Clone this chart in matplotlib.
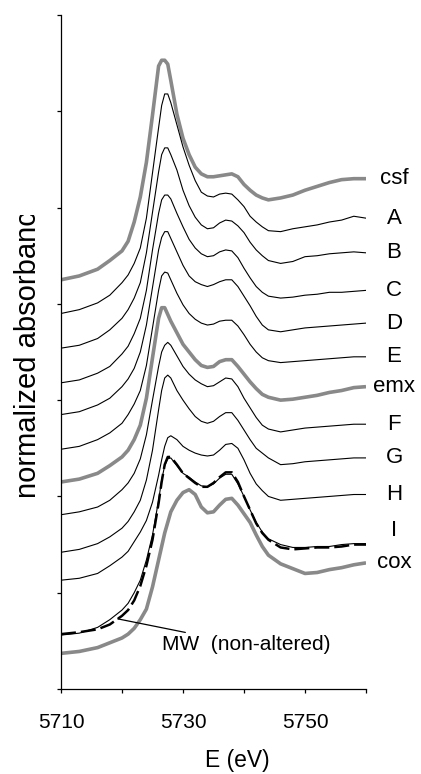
import matplotlib
matplotlib.use('Agg')
import matplotlib.pyplot as plt
import numpy as np
from matplotlib.transforms import Bbox, TransformedBbox

plt.rcParams['font.family'] = ['Liberation Sans', 'DejaVu Sans']

# energy grid (eV) and stacked, normalized XANES spectra (offset units)
energy = [5710, 5713, 5716, 5718, 5720, 5721, 5722, 5723, 5724, 5725, 5726, 5726.5,
          5727, 5727.5, 5728, 5729, 5730, 5731, 5732, 5733, 5734, 5735, 5736, 5737,
          5738, 5739, 5740, 5741, 5742, 5743, 5744, 5746, 5748, 5750, 5752, 5754,
          5756, 5758, 5760]

csf = [4.25, 4.29, 4.36, 4.45, 4.55, 4.65, 4.85, 5.11, 5.47, 5.96, 6.47, 6.53, 6.53,
       6.49, 6.32, 5.97, 5.72, 5.55, 5.42, 5.35, 5.32, 5.32, 5.33, 5.34, 5.35, 5.32,
       5.24, 5.18, 5.13, 5.10, 5.08, 5.10, 5.13, 5.18, 5.22, 5.26, 5.29, 5.30, 5.30]
spec_a = [3.90, 3.94, 4.01, 4.09, 4.22, 4.30, 4.42, 4.58, 4.89, 5.36, 5.83, 6.06, 6.18,
          6.18, 6.09, 5.86, 5.63, 5.44, 5.28, 5.16, 5.12, 5.11, 5.14, 5.15, 5.14, 5.08,
          5.01, 4.91, 4.85, 4.80, 4.76, 4.75, 4.78, 4.80, 4.82, 4.85, 4.87, 4.91, 4.89]
spec_b = [3.54, 3.57, 3.64, 3.73, 3.85, 3.94, 4.06, 4.22, 4.53, 4.95, 5.37, 5.55, 5.62,
          5.62, 5.55, 5.39, 5.18, 5.02, 4.90, 4.82, 4.78, 4.79, 4.84, 4.87, 4.86, 4.81,
          4.74, 4.64, 4.56, 4.50, 4.45, 4.42, 4.44, 4.49, 4.50, 4.52, 4.53, 4.54, 4.53]
spec_c = [3.18, 3.21, 3.28, 3.35, 3.48, 3.56, 3.69, 3.85, 4.14, 4.56, 4.94, 5.08, 5.13,
          5.13, 5.09, 4.94, 4.80, 4.67, 4.58, 4.52, 4.49, 4.50, 4.54, 4.56, 4.55, 4.48,
          4.37, 4.27, 4.18, 4.12, 4.08, 4.06, 4.07, 4.09, 4.10, 4.12, 4.12, 4.13, 4.14]
spec_d = [2.85, 2.88, 2.95, 3.02, 3.14, 3.22, 3.33, 3.50, 3.78, 4.17, 4.56, 4.69, 4.75,
          4.75, 4.68, 4.54, 4.40, 4.29, 4.23, 4.20, 4.18, 4.20, 4.23, 4.25, 4.25, 4.18,
          4.08, 3.98, 3.87, 3.78, 3.73, 3.71, 3.73, 3.75, 3.76, 3.77, 3.78, 3.79, 3.80]
spec_e = [2.49, 2.52, 2.59, 2.66, 2.76, 2.85, 2.96, 3.10, 3.36, 3.75, 4.14, 4.29, 4.33,
          4.32, 4.25, 4.11, 3.99, 3.90, 3.84, 3.80, 3.78, 3.79, 3.82, 3.83, 3.83, 3.77,
          3.68, 3.58, 3.50, 3.44, 3.41, 3.39, 3.40, 3.41, 3.42, 3.43, 3.44, 3.45, 3.45]
emx = [2.15, 2.18, 2.24, 2.32, 2.41, 2.48, 2.59, 2.74, 3.02, 3.44, 3.85, 3.96, 3.96,
       3.89, 3.82, 3.70, 3.58, 3.50, 3.42, 3.36, 3.34, 3.35, 3.40, 3.42, 3.42, 3.35,
       3.27, 3.19, 3.12, 3.06, 3.03, 3.00, 3.01, 3.03, 3.05, 3.08, 3.10, 3.13, 3.14]
spec_f = [1.81, 1.84, 1.89, 1.96, 2.07, 2.14, 2.24, 2.39, 2.64, 3.00, 3.35, 3.50, 3.57,
          3.60, 3.57, 3.46, 3.35, 3.27, 3.21, 3.17, 3.14, 3.15, 3.19, 3.23, 3.22, 3.14,
          3.02, 2.92, 2.82, 2.74, 2.70, 2.67, 2.69, 2.71, 2.72, 2.73, 2.74, 2.75, 2.75]
spec_g = [1.42, 1.45, 1.51, 1.58, 1.67, 1.74, 1.84, 1.96, 2.17, 2.48, 2.90, 3.10, 3.23,
          3.26, 3.23, 3.10, 3.00, 2.91, 2.83, 2.78, 2.76, 2.78, 2.83, 2.87, 2.87, 2.79,
          2.69, 2.59, 2.50, 2.45, 2.40, 2.33, 2.34, 2.36, 2.37, 2.38, 2.39, 2.40, 2.40]
spec_h = [1.13, 1.15, 1.20, 1.28, 1.37, 1.43, 1.53, 1.63, 1.75, 1.94, 2.22, 2.38, 2.52,
          2.61, 2.63, 2.59, 2.52, 2.48, 2.45, 2.43, 2.42, 2.43, 2.48, 2.54, 2.55, 2.50,
          2.38, 2.24, 2.13, 2.06, 2.00, 1.96, 1.97, 1.98, 1.99, 2.00, 2.01, 2.02, 2.02]
spec_i = [0.56, 0.58, 0.64, 0.72, 0.82, 0.89, 1.00, 1.13, 1.34, 1.60, 1.96, 2.17, 2.32,
          2.39, 2.40, 2.32, 2.24, 2.20, 2.15, 2.11, 2.10, 2.13, 2.19, 2.23, 2.23, 2.13,
          2.00, 1.86, 1.73, 1.63, 1.56, 1.50, 1.47, 1.47, 1.48, 1.48, 1.50, 1.51, 1.51]
mw = [0.57, 0.59, 0.62, 0.67, 0.76, 0.82, 0.92, 1.07, 1.28, 1.55, 1.93, 2.15, 2.33,
      2.41, 2.41, 2.33, 2.24, 2.19, 2.14, 2.10, 2.10, 2.14, 2.20, 2.25, 2.25, 2.15,
      2.00, 1.86, 1.72, 1.62, 1.55, 1.47, 1.45, 1.46, 1.47, 1.47, 1.48, 1.50, 1.50]
cox = [0.37, 0.39, 0.43, 0.48, 0.53, 0.57, 0.63, 0.72, 0.83, 1.06, 1.34, 1.48, 1.62,
       1.73, 1.84, 1.96, 2.04, 2.07, 2.02, 1.89, 1.83, 1.84, 1.91, 1.97, 1.98, 1.91,
       1.82, 1.73, 1.60, 1.48, 1.39, 1.30, 1.25, 1.20, 1.21, 1.24, 1.26, 1.29, 1.31]

names = ['csf', 'A', 'B', 'C', 'D', 'E', 'emx', 'F', 'G', 'H', 'I', 'cox']
spectra = [csf, spec_a, spec_b, spec_c, spec_d, spec_e, emx, spec_f, spec_g, spec_h, spec_i, cox]
references = ['csf', 'emx', 'cox']   # drawn as thick grey lines

W, H = 421, 774
fig = plt.figure(figsize=(W / 100, H / 100), dpi=100)
ax = fig.add_axes([61 / W, 85 / H, 305 / W, 674 / H])

grey = '#898989'
for name, spec in zip(names, spectra):
    if name in references:
        ax.plot(energy, spec, color=grey, lw=2.6, solid_capstyle='butt', zorder=2)
    else:
        ax.plot(energy, spec, color='black', lw=0.8, zorder=3)
    label_y = spec[-1] + (0.14 if name == 'I' else 0.0)
    ax.text(5764.6, label_y, name, ha='center', va='center', fontsize=16, clip_on=False)

ax.plot(energy, mw, color='black', lw=1.8, dashes=(6, 2), zorder=4)
ax.annotate('MW  (non-altered)', xy=(5719.3, np.interp(5719.3, energy, mw)),
            xytext=(5726.6, 0.46), ha='left', va='center', fontsize=15,
            arrowprops=dict(arrowstyle='-', color='black', lw=0.9, shrinkA=0, shrinkB=0))

ax.set_xlim(5710, 5760)
ax.set_ylim(0, 7)
ax.set_xticks([5710, 5730, 5750])
ax.set_xticks([5720, 5740, 5760], minor=True)
ax.set_yticks(range(8))
ax.set_yticklabels([])
ax.tick_params(axis='both', which='both', direction='out', length=3, width=0.9, colors='black')
ax.tick_params(axis='x', labelsize=15, pad=14)
for side in ['top', 'right']:
    ax.spines[side].set_visible(False)
for side in ['left', 'bottom']:
    ax.spines[side].set_linewidth(0.9)

fig.text(237 / W, 1 - 760 / H, 'E (eV)', ha='center', va='center', fontsize=16.5)

# y-axis title, cut off at the top as in the original export
ylab = fig.text(28 / W, 1 - 498 / H, 'normalized absorbance', rotation=90,
                ha='center', va='bottom', fontsize=21)
ylab.set_clip_box(TransformedBbox(Bbox([[0, 0], [1, 1 - 215 / H]]), fig.transFigure))
ylab.set_clip_on(True)

fig.savefig('out.png', dpi=100)
